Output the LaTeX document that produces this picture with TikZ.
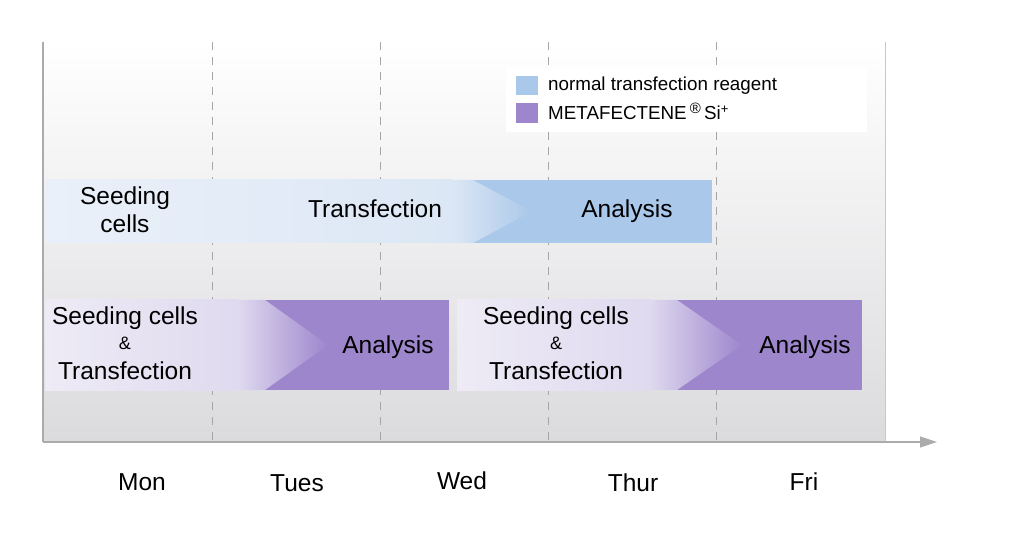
\documentclass[tikz,border=0pt]{standalone}
\usepackage{fontspec}
\setmainfont{Liberation Sans}
\usetikzlibrary{arrows.meta}
\definecolor{bgbot}{HTML}{DBDBDE}
\definecolor{axisgray}{HTML}{ABABAB}
\definecolor{dashgray}{HTML}{A6A6A6}
\definecolor{framegray}{HTML}{C8C8CA}
\definecolor{blueDark}{HTML}{AAC8E9}
\definecolor{blueLa}{HTML}{EAF0F9}
\definecolor{blueLb}{HTML}{DCE7F5}
\definecolor{purpDark}{HTML}{9E86CD}
\definecolor{purpLa}{HTML}{EEEBF6}
\definecolor{purpLb}{HTML}{DFDAEF}
\begin{document}
\begin{tikzpicture}[x=1pt,y=-1pt,
  bartext/.style={font=\fontsize{24.5}{29}\selectfont, anchor=base, inner sep=0pt},
  amptext/.style={font=\fontsize{18}{21}\selectfont, anchor=base, inner sep=0pt},
  daytext/.style={font=\fontsize{24.5}{29}\selectfont, anchor=base, inner sep=0pt},
  legtext/.style={font=\fontsize{18.8}{22}\selectfont, anchor=base west, inner sep=0pt},
  daydash/.style={draw=dashgray, line width=0.9pt, dash pattern=on 8pt off 7pt},
  axisline/.style={draw=axisgray, line width=1.1pt},
  frameline/.style={draw=framegray, line width=1pt}]
\useasboundingbox (0,0) rectangle (1015,545);
\fill[white] (0,0) rectangle (1015,545);
% chart background
\shade[top color=white, bottom color=bgbot] (43,42) rectangle (885,442);
% day separators
\foreach \x in {212,380,548,716} \draw[daydash] (\x,42) -- (\x,442);
\draw[frameline] (885,42) -- (885,442);
% axes
\coordinate (top) at (43,42);
\coordinate (o) at (43,442);
\coordinate (xend) at (937,442);
\draw[axisline] (top) -- (o);
\draw[axisline, -{Triangle[length=17pt,width=11pt,fill=axisgray]}] (o) -- (xend);
% legend
\fill[white] (506,68) rectangle (867,132);
\fill[blueDark] (516,76) rectangle (538,95);
\fill[purpDark] (516,103) rectangle (538,123);
\node[legtext] (leg1) at (548,91) {normal transfection reagent};
\node[legtext] (leg2) at (548,120) {METAFECTENE\,\raisebox{6pt}{\fontsize{15}{17}\selectfont ®}\,Si\raisebox{6.5pt}{\fontsize{13}{15}\selectfont +}};
% top bar (normal reagent)
\fill[blueDark] (473,180) rectangle (712,243);
\shade[left color=blueLa, right color=blueLb] (45,180) rectangle (452,243);
\shade[left color=blueLb, right color=blueDark] (451.5,180) -- (473,180) -- (532,211.5) -- (473,243) -- (451.5,243) -- cycle;
% bottom bar 1 (METAFECTENE)
\fill[purpDark] (265,300) rectangle (449,390);
\shade[left color=purpLa, right color=purpLb] (45,300) rectangle (238,390);
\shade[left color=purpLb, right color=purpDark] (237.5,300) -- (265,300) -- (328,345) -- (265,390) -- (237.5,390) -- cycle;
% bottom bar 2
\fill[purpDark] (677,300) rectangle (862,390);
\shade[left color=purpLa, right color=purpLb] (457,300) rectangle (650,390);
\shade[left color=purpLb, right color=purpDark] (649.5,300) -- (677,300) -- (742,345) -- (677,390) -- (649.5,390) -- cycle;
% bar labels
\node[bartext] (seedA) at (125,205) {Seeding};
\node[bartext] (cellsA) at (125,233) {cells};
\node[bartext] (trA) at (375,218) {Transfection};
\node[bartext] (anA) at (627,218) {Analysis};
\node[bartext] (seedB) at (125,325) {Seeding cells};
\node[amptext] (ampB) at (125,350) {\&};
\node[bartext] (trB) at (125,380) {Transfection};
\node[bartext] (anB) at (388,353) {Analysis};
\node[bartext] (seedC) at (556,325) {Seeding cells};
\node[amptext] (ampC) at (556,350) {\&};
\node[bartext] (trC) at (556,380) {Transfection};
\node[bartext] (anC) at (805,353) {Analysis};
% day labels
\node[daytext] (mon) at (142,490) {Mon};
\node[daytext] (tue) at (297,491) {Tues};
\node[daytext] (wed) at (462,489) {Wed};
\node[daytext] (thu) at (633,491) {Thur};
\node[daytext] (fri) at (804,490) {Fri};
\end{tikzpicture}
\end{document}
